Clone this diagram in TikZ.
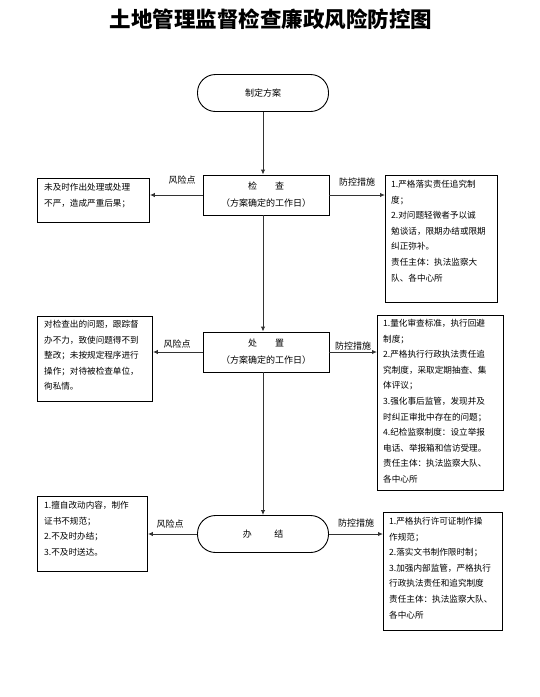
\documentclass[tikz,border=0pt]{standalone}
\usepackage{fontspec}
\setmainfont{Noto Sans CJK SC}
\usetikzlibrary{arrows.meta}
\begin{document}
\begin{tikzpicture}[x=1pt,y=-1pt,
  boxline/.style={draw=black,line width=0.9pt},
  proc/.style={boxline,minimum width=126pt,minimum height=40pt,inner sep=0pt,align=center,font=\fontsize{9}{17}\selectfont},
  term/.style={boxline,minimum width=131pt,minimum height=37pt,rounded corners=18pt,inner sep=0pt,font=\fontsize{9}{10}\selectfont},
  side/.style={boxline,inner sep=0pt,anchor=north west},
  txt/.style={anchor=north west,align=left,font=\fontsize{8.6}{15.6}\selectfont,inner sep=0pt},
  lbl/.style={font=\fontsize{9}{10}\selectfont,inner sep=0pt},
  arr/.style={draw=black!80,line width=1pt,-{Latex[length=5pt,width=4.5pt]}}]
\useasboundingbox (0,0) rectangle (540,697);
\node[font=\fontsize{21.5}{24}\selectfont\bfseries] (title) at (271,19) {土地管理监督检查廉政风险防控图};

% main flow
\node[term] (start) at (263,93) {制定方案};
\node[proc] (chk) at (266,195) {检\hspace{2em}查\\（方案确定的工作日）};
\node[proc] (disp) at (266,352) {处\hspace{2em}置\\（方案确定的工作日）};
\node[term] (fin) at (263,534) {办\hspace{2.5em}结};

% side boxes
\node[side,minimum width=112pt,minimum height=44pt] (l1) at (37,178) {};
\node[txt] (l1t) at ([xshift=7pt,yshift=-5pt]l1.north west) {未及时作出处理或处理\\不严，造成严重后果；};
\node[side,minimum width=112pt,minimum height=127pt] (r1) at (385,175) {};
\node[txt] (r1t) at ([xshift=6pt,yshift=-5pt]r1.north west) {1.严格落实责任追究制\\度；\\2.对问题轻微者予以诚\\勉谈话，限期办结或限期\\纠正弥补。\\责任主体：执法监察大\\队、各中心所};

\node[side,minimum width=115pt,minimum height=85pt] (l2) at (37,316) {};
\node[txt] (l2t) at ([xshift=7pt,yshift=-4pt]l2.north west) {对检查出的问题，跟踪督\\办不力，致使问题得不到\\整改；未按规定程序进行\\操作；对待被检查单位，\\徇私情。};
\node[side,minimum width=126pt,minimum height=175pt] (r2) at (377,315) {};
\node[txt] (r2t) at ([xshift=6pt,yshift=-4pt]r2.north west) {1.量化审查标准，执行回避\\制度；\\2.严格执行行政执法责任追\\究制度，采取定期抽查、集\\体评议；\\3.强化事后监管，发现并及\\时纠正审批中存在的问题；\\4.纪检监察制度：设立举报\\电话、举报箱和信访受理。\\责任主体：执法监察大队、\\各中心所};

\node[side,minimum width=110pt,minimum height=75pt] (l3) at (37,496) {};
\node[txt] (l3t) at ([xshift=7pt,yshift=-5pt]l3.north west) {1.擅自改动内容，制作\\证书不规范；\\2.不及时办结；\\3.不及时送达。};
\node[side,minimum width=119pt,minimum height=118pt] (r3) at (383,512) {};
\node[txt] (r3t) at ([xshift=6pt,yshift=-5pt]r3.north west) {1.严格执行许可证制作操\\作规范；\\2.落实文书制作限时制；\\3.加强内部监管，严格执行\\行政执法责任和追究制度\\责任主体：执法监察大队、\\各中心所};

% vertical arrows
\draw[arr] (start.south) -- (start.south |- chk.north);
\draw[arr] (start.south |- chk.south) -- (start.south |- disp.north);
\draw[arr] (start.south |- disp.south) -- (fin.north);

% side arrows
\draw[arr] (chk.west) -- (l1.east |- chk.west);
\draw[arr] (chk.east) -- (r1.west |- chk.east);
\draw[arr] (disp.west) -- (l2.east |- disp.west);
\draw[arr] (disp.east) -- (r2.west |- disp.east);
\draw[arr] (fin.west) -- (l3.east |- fin.west);
\draw[arr] (fin.east) -- (r3.west |- fin.east);

% labels
\node[lbl] (k1) at (182,180) {风险点};
\node[lbl] (p1) at (357,182) {防控措施};
\node[lbl] (k2) at (177,344) {风险点};
\node[lbl] (p2) at (353,346) {防控措施};
\node[lbl] (k3) at (170,524) {风险点};
\node[lbl] (p3) at (356,523) {防控措施};
\end{tikzpicture}
\end{document}
